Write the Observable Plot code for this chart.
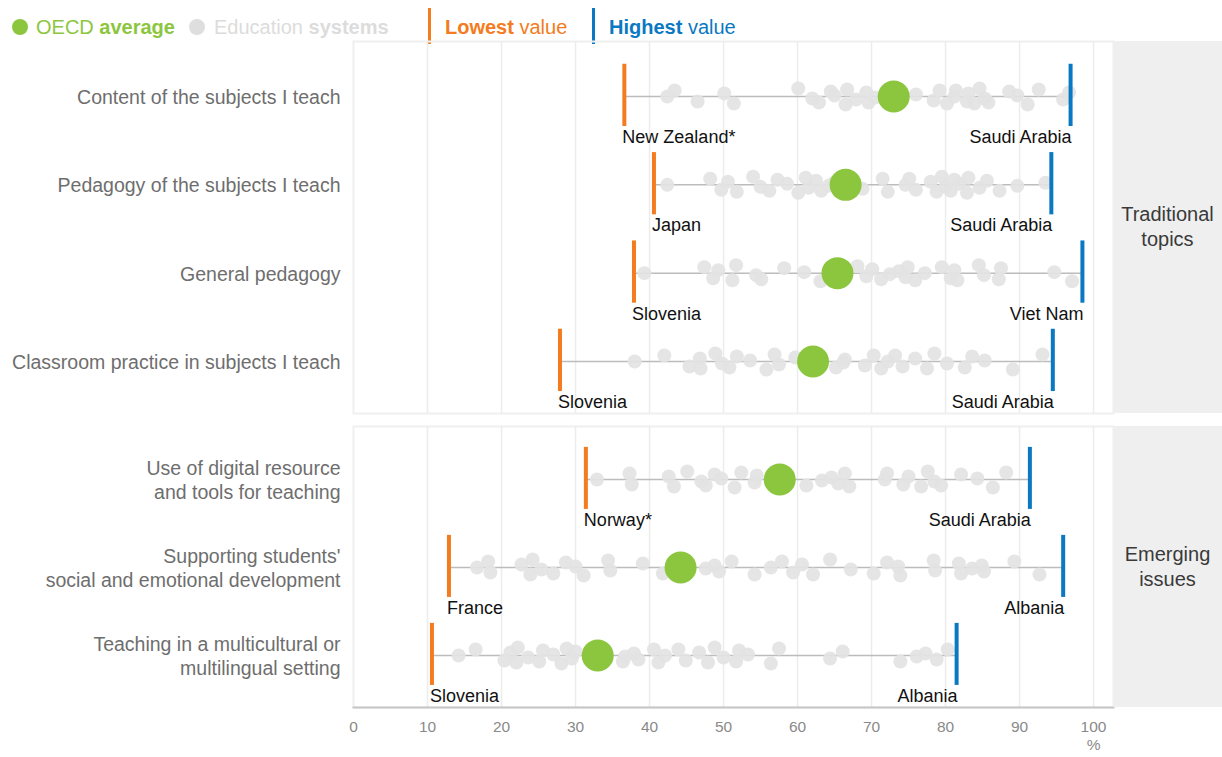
<!DOCTYPE html>
<html>
<head>
<meta charset="utf-8">
<script src="https://cdn.jsdelivr.net/npm/d3@7"></script>
<script src="https://cdn.jsdelivr.net/npm/@observablehq/plot@0.6"></script>
<style>
  html, body { margin: 0; padding: 0; background: #fff; }
  body { width: 1222px; height: 757px; position: relative; overflow: hidden;
         font-family: "Liberation Sans", Arial, sans-serif; }
  .abs { position: absolute; }
  .facet { background: #efefef; color: #3a3a3a; font-size: 20px; line-height: 25px;
           display: flex; align-items: center; justify-content: center; text-align: center; }
  .leg { position: absolute; top: 12px; font-size: 20px; line-height: 30px; white-space: nowrap; }
  .swatch { position: absolute; border-radius: 50%; width: 16px; height: 16px; top: 19px; }
  .bar { position: absolute; top: 8px; width: 3px; height: 36px; }
</style>
</head>
<body>
<div id="legend"></div>
<div id="p1" class="abs" style="left:0;top:40px"></div>
<div id="p2" class="abs" style="left:0;top:414px"></div>
<div id="f1" class="abs facet" style="left:1113px;top:41px;width:109px;height:372px"></div>
<div id="f2" class="abs facet" style="left:1113px;top:426px;width:109px;height:281px"></div>
<script>
// ---------------- data ----------------
const groups = ["Traditional\ntopics", "Emerging\nissues"];
const topics = [
  "Content of the subjects I teach",
  "Pedagogy of the subjects I teach",
  "General pedagogy",
  "Classroom practice in subjects I teach",
  "Use of digital resource\nand tools for teaching",
  "Supporting students'\nsocial and emotional development",
  "Teaching in a multicultural or\nmultilingual setting"
];
const topicGroup = [0, 0, 0, 0, 1, 1, 1];
const oecdAverage = [73.0, 66.5, 65.4, 62.1, 57.6, 44.2, 33.0];
const lowestValue = [36.6, 40.6, 37.9, 27.9, 31.4, 12.9, 10.6];
const lowestSystem = ["New Zealand*", "Japan", "Slovenia", "Slovenia", "Norway*", "France", "Slovenia"];
const highestValue = [96.9, 94.3, 98.5, 94.5, 91.4, 95.9, 81.5];
const highestSystem = ["Saudi Arabia", "Saudi Arabia", "Viet Nam", "Saudi Arabia", "Saudi Arabia", "Albania", "Albania"];
const systemValues = [
  [42.4, 43.4, 46.5, 50.1, 51.4, 60.1, 62.0, 62.9, 64.5, 65.0, 66.5, 66.7, 67.9, 69.3, 69.6, 70.5, 76.0, 78.4, 79.2, 80.2, 81.2, 81.4, 82.9, 83.1, 83.9, 84.6, 85.3, 85.8, 88.6, 89.7, 91.1, 92.6, 95.9, 96.7],
  [42.4, 48.2, 49.7, 50.6, 51.8, 54.0, 55.0, 56.2, 57.3, 58.6, 60.1, 61.1, 61.5, 62.5, 63.2, 64.2, 64.9, 68.8, 71.5, 72.2, 74.6, 75.1, 76.0, 78.0, 78.8, 79.5, 80.0, 80.7, 81.2, 81.9, 82.9, 83.1, 84.6, 85.6, 87.3, 89.7, 93.5],
  [39.3, 47.4, 48.6, 49.3, 51.2, 51.7, 54.4, 55.1, 58.2, 60.9, 63.1, 68.1, 69.3, 70.1, 71.3, 72.5, 73.7, 74.6, 74.9, 75.9, 77.2, 79.5, 80.7, 81.2, 81.6, 84.5, 85.2, 87.2, 87.5, 94.7, 97.1],
  [38.0, 42.0, 45.4, 46.8, 46.9, 48.9, 49.8, 50.8, 51.8, 53.6, 55.8, 56.9, 57.5, 59.7, 65.2, 66.2, 66.4, 69.1, 70.3, 71.3, 72.2, 73.2, 74.2, 75.9, 77.5, 78.5, 80.2, 82.6, 83.6, 85.3, 89.1, 93.1],
  [32.9, 37.3, 37.6, 42.6, 43.3, 45.1, 47.0, 47.6, 48.8, 49.7, 51.5, 52.4, 54.2, 54.5, 61.2, 63.3, 64.6, 65.5, 66.4, 67.0, 71.8, 72.1, 74.3, 75.0, 76.7, 77.6, 78.5, 79.4, 82.1, 84.3, 86.4, 88.2],
  [16.7, 18.2, 18.5, 22.7, 23.9, 24.2, 25.4, 27.0, 28.7, 30.0, 31.1, 34.4, 34.7, 39.1, 41.8, 47.6, 48.8, 49.4, 51.1, 54.2, 56.4, 57.9, 59.4, 60.6, 62.1, 64.4, 67.2, 70.3, 72.1, 73.6, 73.9, 78.4, 78.6, 81.8, 82.1, 83.6, 84.9, 85.2, 89.3, 92.7],
  [14.2, 16.5, 20.4, 21.2, 22.0, 22.2, 23.6, 25.1, 25.6, 27.0, 28.1, 28.8, 29.5, 30.0, 36.4, 36.7, 37.9, 38.5, 40.6, 41.2, 42.1, 43.9, 44.9, 46.7, 47.9, 48.8, 50.0, 51.7, 52.1, 53.3, 56.4, 57.5, 64.4, 66.1, 73.9, 76.1, 77.3, 78.8, 80.3]
];
const xTicks = [0, 10, 20, 30, 40, 50, 60, 70, 80, 90, 100];
const xUnit = "%";

// ---------------- styles ----------------
const FONT = '"Liberation Sans", Arial, sans-serif';
const GREEN = "#8cc63f", ORANGE = "#f47b20", BLUE = "#0a78c2", DOTGRAY = "#e3e3e3";
const ROWPX = 88;
const jitterPx = [0, -6, 5, -3, 7, -8, 2, 6, -5, -1, 8, -7, 3, -4, 6, 1, -2, 4, -6, 7];

function panel(group, cfg) {
  const rows = topics.map((t, g) => g).filter(g => topicGroup[g] === group);
  const rowData = rows.map((g, k) => ({
    k, topic: topics[g], lo: lowestValue[g], hi: highestValue[g], avg: oecdAverage[g],
    loName: lowestSystem[g], hiName: highestSystem[g]
  }));
  const dots = rows.flatMap((g, k) => systemValues[g].map((v, i) => ({k, v, i})));
  return Plot.plot({
    width: 1113, height: cfg.height,
    marginLeft: 353, marginRight: 0, marginTop: cfg.mt, marginBottom: cfg.mb,
    x: {domain: [0, 102.7], axis: null},
    y: {domain: [0, rows.length - 1], range: cfg.yRange, axis: null},
    style: {fontFamily: FONT, overflow: "visible", background: "transparent"},
    marks: [
      Plot.frame({stroke: "#efefef", strokeWidth: 2}),
      Plot.gridX(xTicks.filter(t => t > 0), {stroke: "#ececec", strokeOpacity: 1, strokeWidth: 1.5}),
      Plot.axisY(d3.range(rows.length), {
        tickFormat: k => rowData[k].topic, tickSize: 0, tickPadding: 13,
        fontSize: 19.5, fill: "#6e6e6e", label: null, lineHeight: 1.22
      }),
      cfg.xAxis ? Plot.axisX(xTicks, {tickSize: 0, tickPadding: 13, fontSize: 15.5, fill: "#8a8a8a", label: null}) : null,
      cfg.xAxis ? Plot.frame({anchor: "bottom", stroke: "#c6c6c6", strokeWidth: 2}) : null,
      cfg.xAxis ? Plot.text([xUnit], {x: () => 100, frameAnchor: "bottom", dy: 42, text: d => d, fontSize: 15.5, fill: "#8a8a8a"}) : null,
      Plot.ruleY(rowData, {y: "k", x1: "lo", x2: "hi", stroke: "#bcbcbc", strokeWidth: 1.5}),
      Plot.dot(dots, {x: "v", y: d => d.k + jitterPx[d.i % jitterPx.length] / ROWPX, r: 7, fill: DOTGRAY, fillOpacity: 0.92}),
      Plot.ruleX(rowData, {x: "lo", y1: d => d.k - 0.365, y2: d => d.k + 0.34, stroke: ORANGE, strokeWidth: 4}),
      Plot.ruleX(rowData, {x: "hi", y1: d => d.k - 0.365, y2: d => d.k + 0.34, stroke: BLUE, strokeWidth: 4}),
      Plot.dot(rowData, {x: "avg", y: "k", r: 16, fill: GREEN}),
      Plot.text(rowData, {x: "lo", y: d => d.k + 0.46, text: "loName", textAnchor: "start", dx: -2, fontSize: 18, fill: "#111"}),
      Plot.text(rowData, {x: "hi", y: d => d.k + 0.46, text: "hiName", textAnchor: "end", dx: 1, fontSize: 18, fill: "#111"})
    ]
  });
}

document.getElementById("p1").append(panel(0, {height: 374, mt: 1, mb: 1, yRange: [56, 321], xAxis: false}));
document.getElementById("p2").append(panel(1, {height: 343, mt: 12, mb: 50, yRange: [65, 241], xAxis: true}));

document.getElementById("f1").innerText = groups[0];
document.getElementById("f2").innerText = groups[1];

// ---------------- legend ----------------
const legend = document.getElementById("legend");
legend.innerHTML = `
  <div class="swatch" style="left:12px;background:${GREEN}"></div>
  <div class="leg" style="left:36px;color:${GREEN}">OECD <b>average</b></div>
  <div class="swatch" style="left:189px;background:#dedede"></div>
  <div class="leg" style="left:214px;color:#dcdcdc">Education <b>systems</b></div>
  <div class="bar" style="left:428px;background:${ORANGE}"></div>
  <div class="leg" style="left:445px;color:${ORANGE}"><b>Lowest</b> value</div>
  <div class="bar" style="left:592px;background:${BLUE}"></div>
  <div class="leg" style="left:609px;color:${BLUE}"><b>Highest</b> value</div>`;
</script>
</body>
</html>
